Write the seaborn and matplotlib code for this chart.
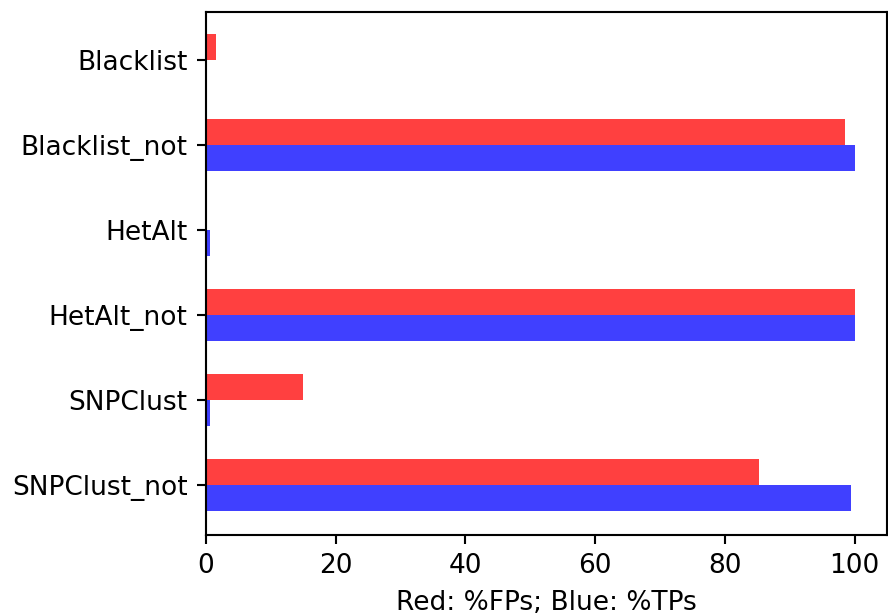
import matplotlib
matplotlib.use("Agg")
import matplotlib.pyplot as plt
import seaborn as sns
import pandas as pd

categories = ["Blacklist", "Blacklist_not", "HetAlt", "HetAlt_not", "SNPClust", "SNPClust_not"]
fp_pct = [1.5, 98.5, 0.0, 100.0, 14.9, 85.2]
tp_pct = [0.0, 100.0, 0.6, 100.0, 0.6, 99.4]
series = ["%FPs", "%TPs"]
title_text = "Sensitivity of the flag at each filter level"

df = pd.DataFrame({
    "category": categories * 2,
    "value": fp_pct + tp_pct,
    "series": [series[0]] * len(categories) + [series[1]] * len(categories),
})

plt.rcParams["font.family"] = ["DejaVu Sans"]

DPI = 190
fig = plt.figure(figsize=(888 / DPI, 614 / DPI), dpi=DPI)
ax = fig.add_axes([206/888, 1 - 535/614, (887-206)/888, (535-12)/614])

sns.barplot(data=df, y="category", x="value", hue="series", orient="h",
            palette=["#ff4040", "#4040ff"], width=0.61, saturation=1,
            errorbar=None, legend=False, ax=ax, linewidth=0)

ax.set_xlim(0, 105)
ax.set_ylim(5.59, -0.565)
ax.set_xticks([0, 20, 40, 60, 80, 100])
ax.set_xlabel("Red: %FPs; Blue: %TPs")
ax.set_ylabel("")
ax.set_title(title_text, pad=7.2)

fig.savefig("out.png", dpi=DPI)
